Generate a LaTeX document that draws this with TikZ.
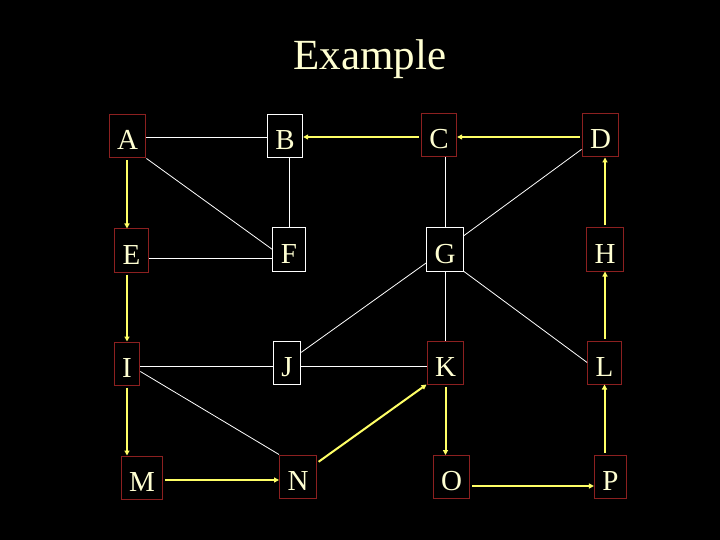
\documentclass[tikz,border=0pt]{standalone}
\usepackage{fontspec}
\setmainfont{Liberation Serif}
\usetikzlibrary{arrows.meta}
\definecolor{bordred}{RGB}{140,32,32}
\definecolor{arrowyel}{RGB}{255,255,102}
\definecolor{txtcream}{RGB}{255,255,210}
\tikzset{
  vbox/.style={draw=bordred, line width=1pt, fill=black, text=txtcream,
    font=\fontsize{29}{29}\selectfont, inner xsep=8pt, inner ysep=0pt,
    minimum height=43pt, text height=27pt, text depth=0pt},
  wbox/.style={vbox, draw=white},
  wline/.style={draw=white, line width=0.8pt},
  arr/.style={draw=arrowyel, line width=2pt, shorten <=2pt,
    -{Triangle[length=5pt,width=5pt]}}
}
\begin{document}
\begin{tikzpicture}[x=1pt,y=-1pt]
\fill[black] (0,0) rectangle (720,540);
\useasboundingbox (0,0) rectangle (720,540);
\node[text=txtcream, font=\fontsize{43}{43}\selectfont, anchor=base] (title) at (370,70) {Example};
\node[vbox] (A) at (127.5,136.5) {A};
\node[wbox] (B) at (285,136) {B};
\node[vbox] (C) at (439,135.5) {C};
\node[vbox] (D) at (600.5,135.5) {D};
\node[vbox] (E) at (131.5,250.5) {E};
\node[wbox] (F) at (289,249.5) {F};
\node[wbox] (G) at (445,249.5) {G};
\node[vbox] (H) at (605,249.5) {H};
\node[vbox] (I) at (127,363.5) {I};
\node[wbox] (J) at (287,362.5) {J};
\node[vbox] (K) at (445.5,362.5) {K};
\node[vbox] (L) at (604.5,362.5) {L};
\node[vbox] (M) at (142,477.5) {M};
\node[vbox] (N) at (298,476.5) {N};
\node[vbox] (O) at (451.5,477) {O};
\node[vbox] (P) at (610.5,476.5) {P};
% white connectors
\draw[wline] (A.east |- 0,137) -- (B.west |- 0,137);
\draw[wline] (A.south east) -- (F.west);
\draw[wline] (B.south -| F) -- (F.north);
\draw[wline] (E.east |- 0,258) -- (F.west |- 0,258);
\draw[wline] (C.south -| G) -- (G.north);
\draw[wline] (G) -- (D);
\draw[wline] (J) -- (G);
\draw[wline] (G.south -| K) -- (K.north);
\draw[wline] (G.south east) -- (L.west);
\draw[wline] (I.east |- 0,366) -- (J.west |- 0,366);
\draw[wline] (J.east |- 0,366) -- (K.west |- 0,366);
\draw[wline] (I) -- (N.north west);
% yellow arrows
\draw[arr] (A.south -| I.north) -- (E.north -| I.north);
\draw[arr] (E.south -| I.north) -- (I.north);
\draw[arr] (I.south) -- (I.south |- M.north);
\draw[arr] (M.east |- 0,480) -- (N.west |- 0,480);
\draw[arr] (N) -- (K.south west);
\draw[arr] (K.south) -- (K.south |- O.north);
\draw[arr] (O.east |- 0,486) -- (P.west |- 0,486);
\draw[arr] (P.north -| L) -- (L.south);
\draw[arr] (L.north -| H) -- (H.south);
\draw[arr] (H.north) -- (H.north |- D.south);
\draw[arr] (D.west |- 0,137) -- (C.east |- 0,137);
\draw[arr] (C.west |- 0,137) -- (B.east |- 0,137);
\end{tikzpicture}
\end{document}
